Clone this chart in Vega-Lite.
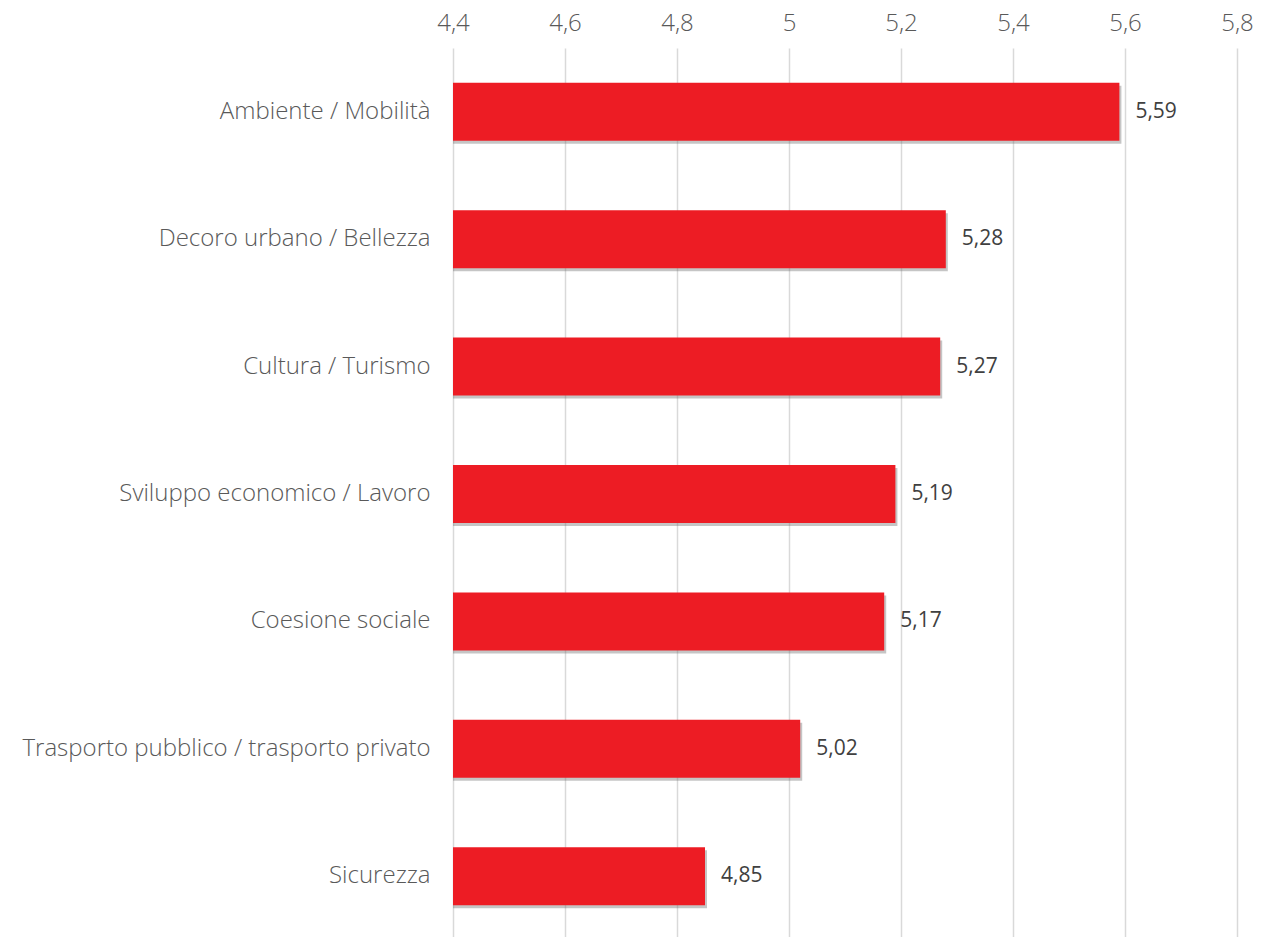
{
  "$schema": "https://vega.github.io/schema/vega-lite/v6.json",
  "autosize": {"type": "none"},
  "width": 784,
  "height": 892,
  "padding": {"left": 453, "top": 48, "right": 39, "bottom": 0},
  "background": "white",
  "config": {"view": {"stroke": null}, "locale": {"number": {"decimal": ",", "thousands": ".", "grouping": [3], "currency": ["€", ""]}}},
  "data": {"values": [
    {"categoria": "Ambiente / Mobilità", "valore": 5.59},
    {"categoria": "Decoro urbano / Bellezza", "valore": 5.28},
    {"categoria": "Cultura / Turismo", "valore": 5.27},
    {"categoria": "Sviluppo economico / Lavoro", "valore": 5.19},
    {"categoria": "Coesione sociale", "valore": 5.17},
    {"categoria": "Trasporto pubblico / trasporto privato", "valore": 5.02},
    {"categoria": "Sicurezza", "valore": 4.85}
  ]},
  "encoding": {
    "y": {"field": "categoria", "type": "nominal", "sort": null, "title": null,
      "scale": {"paddingInner": 0.545, "paddingOuter": 0.2725},
      "axis": {"domain": false, "ticks": false, "labelFont": "Open Sans", "labelFontWeight": 300, "labelFontSize": 24, "labelColor": "#595959", "labelPadding": 23, "labelLimit": 500}},
    "x": {"field": "valore", "type": "quantitative", "title": null,
      "scale": {"domain": [4.4, 5.8], "zero": false, "nice": false},
      "axis": {"orient": "top", "values": [4.4, 4.6, 4.8, 5.0, 5.2, 5.4, 5.6, 5.8], "format": "~r", "domain": false, "ticks": false, "labelFlush": false, "labelFont": "Open Sans", "labelFontWeight": 300, "labelFontSize": 24, "labelColor": "#595959", "labelPadding": 13, "grid": true, "gridColor": "#d9d9d9", "gridWidth": 1.5}},
    "x2": {"datum": 4.4}
  },
  "layer": [
    {"mark": {"type": "bar", "color": "#6f6f6f", "opacity": 0.4, "xOffset": 2, "yOffset": 3}},
    {"mark": {"type": "bar", "color": "#ED1C24"}},
    {"mark": {"type": "text", "align": "left", "dx": 16, "font": "Open Sans", "fontSize": 21, "color": "#404040"},
      "encoding": {"x2": null, "text": {"field": "valore", "type": "quantitative", "format": ".2f"}}}
  ]
}
